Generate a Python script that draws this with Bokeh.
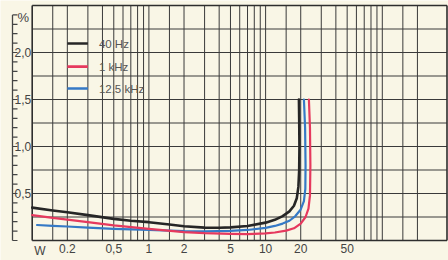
from bokeh.plotting import figure
from bokeh.models import Range1d
from bokeh.core.properties import value
from bokeh.embed import file_html
from bokeh.resources import INLINE

# ---------------- data ----------------
series_names = ["40 Hz", "1 kHz", "12,5 kHz"]

freq_40hz = [0.1, 0.15, 0.2, 0.3, 0.5, 0.7, 1, 1.5, 2, 3, 4, 5, 7, 10, 12, 14, 16, 17.5, 18.5, 19.1, 19.4, 19.5, 19.4, 19.3]
thd_40hz = [0.35, 0.32, 0.30, 0.27, 0.23, 0.21, 0.195, 0.17, 0.152, 0.137, 0.136, 0.14, 0.155, 0.19, 0.22, 0.26, 0.31, 0.37, 0.45, 0.57, 0.75, 1.0, 1.3, 1.5]

freq_1khz = [0.1, 0.15, 0.2, 0.3, 0.5, 1, 2, 3, 5, 7, 10, 12, 15, 17.5, 20, 22, 23.3, 24.0, 24.2, 24.0, 23.5]
thd_1khz = [0.27, 0.24, 0.223, 0.195, 0.16, 0.124, 0.09, 0.078, 0.07, 0.068, 0.075, 0.085, 0.105, 0.13, 0.18, 0.25, 0.34, 0.48, 0.8, 1.2, 1.5]

freq_12k5 = [0.11, 0.15, 0.2, 0.3, 0.5, 1, 2, 3, 5, 7, 10, 12, 14, 16, 18, 20, 21.3, 21.9, 22.0, 21.8, 21.3]
thd_12k5 = [0.165, 0.155, 0.149, 0.137, 0.124, 0.113, 0.1, 0.098, 0.102, 0.112, 0.135, 0.155, 0.18, 0.21, 0.26, 0.33, 0.42, 0.55, 0.8, 1.2, 1.5]

x_tick_values = [0.1, 0.2, 0.5, 1, 2, 5, 10, 20, 50]
x_tick_labels = ["W", "0.2", "0,5", "1", "2", "5", "10", "20", "50"]
y_tick_values = [0.5, 1.0, 1.5, 2.0]
y_tick_labels = ["0,5", "1,0", "1,5", "2,0"]
y_minor_ticks = [i / 10 for i in range(0, 25)]

grid_x = [0.15, 0.2, 0.3, 0.4, 0.5, 0.6, 0.7, 0.8, 0.9, 1, 1.5, 2, 3, 4, 5, 6, 7, 8, 9,
          10, 15, 20, 30, 40, 50, 60, 70, 80, 90, 100, 150, 200]
grid_y = [0.25, 0.5, 0.75, 1.0, 1.25, 1.5, 1.75, 2.0, 2.25]

# ---------------- geometry ----------------
W, H = 448, 260
X01_PX = 31.7     # canvas x of 0.1 kHz
DEC_PX = 116.7    # px per decade
Y0_PX = 240.0     # canvas y of 0 %
UNIT_PX = 94.0    # px per 1 %


def px_to_f(px):
    return 10 ** ((px - X01_PX) / DEC_PX - 1)


def py_to_v(py):
    return (Y0_PX - py) / UNIT_PX


x_lo, x_hi = px_to_f(0), px_to_f(W)
y_lo, y_hi = py_to_v(H), py_to_v(0)
x_frame_end = px_to_f(446.5)
x_yaxis = px_to_f(12)
y_top = 2.5
y_axis_top = 2.4

BG = "#f9f6e6"
GRID = "#3a3a3a"
FONT = value("Liberation Sans")
colors = ["#262626", "#e6395e", "#3579c6"]

p = figure(width=W, height=H, x_axis_type="log",
           x_range=Range1d(x_lo, x_hi), y_range=Range1d(y_lo, y_hi),
           x_axis_location=None, y_axis_location=None,
           output_backend="svg", toolbar_location=None,
           background_fill_color=BG, border_fill_color=BG,
           outline_line_color=None, min_border=0)
p.xgrid.visible = False
p.ygrid.visible = False

# grid
p.segment(x0=grid_x, y0=0, x1=grid_x, y1=y_top, line_color=GRID, line_width=1)
p.segment(x0=0.1, y0=grid_y, x1=x_frame_end, y1=grid_y, line_color=GRID, line_width=1)
# frame
p.segment(x0=[0.1, 0.1, 0.1, x_frame_end], y0=[0, 0, y_top, 0],
          x1=[0.1, x_frame_end, x_frame_end, x_frame_end], y1=[y_top, 0, y_top, y_top],
          line_color="#2e2e2e", line_width=1.6)

# left scale
p.segment(x0=x_yaxis, y0=0, x1=x_yaxis, y1=y_axis_top, line_color="#444444", line_width=1.3)
p.ray(x=x_yaxis, y=y_minor_ticks, length=5, length_units="screen", angle=0,
      line_color="#444444", line_width=1.2)
p.text(x=x_yaxis, y=y_tick_values, text=y_tick_labels, x_offset=2,
       text_font=FONT, text_font_size="12px", text_color="#444444",
       text_align="left", text_baseline="middle")
p.text(x=x_yaxis, y=[2.37], text=["%"], x_offset=5,
       text_font=FONT, text_font_size="13px", text_color="#444444",
       text_align="left", text_baseline="middle")

# x labels
p.text(x=x_tick_values[1:], y=0, text=x_tick_labels[1:], y_offset=3,
       text_font=FONT, text_font_size="12px", text_color="#444444",
       text_align="center", text_baseline="top")
p.text(x=x_tick_values[:1], y=0, text=x_tick_labels[:1], y_offset=3, x_offset=2,
       text_font=FONT, text_font_size="12px", text_color="#444444",
       text_align="left", text_baseline="top")

# curves
for fx, vy, c, lw in [(freq_40hz, thd_40hz, colors[0], 2.6),
                      (freq_12k5, thd_12k5, colors[2], 2.2),
                      (freq_1khz, thd_1khz, colors[1], 2.2)]:
    p.line(fx, vy, line_color=c, line_width=lw, line_join="round", line_cap="round")

# legend
legend_y = [2.095, 1.85, 1.617]
p.segment(x0=0.2, y0=legend_y, x1=0.3, y1=legend_y, line_color=colors, line_width=2.6)
p.text(x=0.3, y=legend_y, text=series_names, x_offset=11,
       text_font=FONT, text_font_size="11.5px", text_color="#555555",
       text_align="left", text_baseline="middle")

open("out.html", "w").write(file_html(p, INLINE))
